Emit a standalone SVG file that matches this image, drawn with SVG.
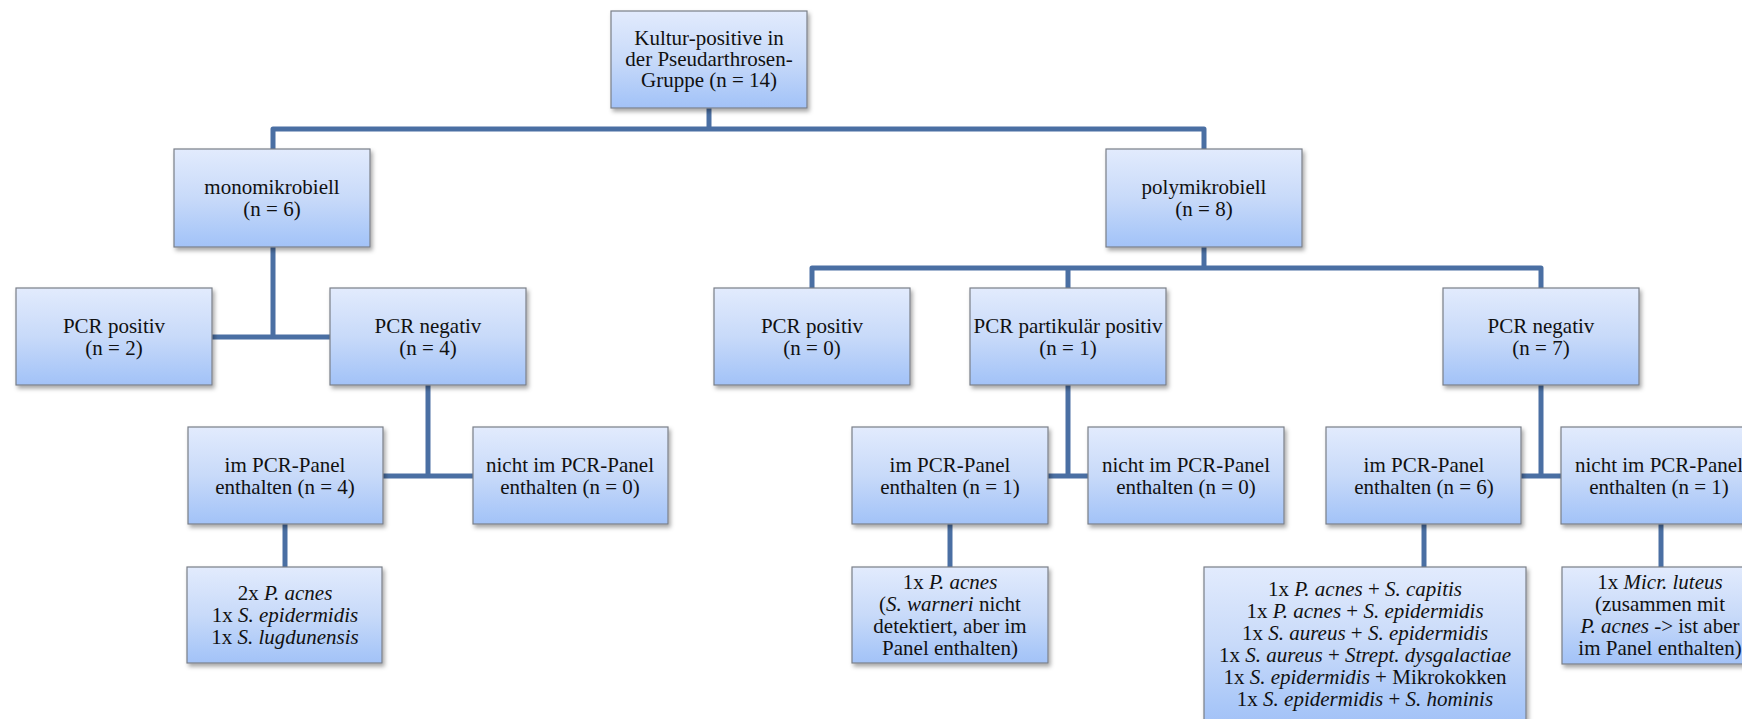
<svg xmlns="http://www.w3.org/2000/svg" width="1742" height="719" viewBox="0 0 1742 719">
<defs>
<linearGradient id="g" x1="0" y1="0" x2="0" y2="1">
<stop offset="0" stop-color="#e2ebfd"/>
<stop offset="0.5" stop-color="#c8daf9"/>
<stop offset="0.9" stop-color="#a9c7f8"/>
<stop offset="1" stop-color="#a3c2f7"/>
</linearGradient>
<filter id="sh" x="-10%" y="-10%" width="125%" height="130%">
<feDropShadow dx="2" dy="3" stdDeviation="2" flood-color="#000" flood-opacity="0.35"/>
</filter>
<style>
.b{fill:url(#g);stroke:#7a7f88;stroke-width:1.2;filter:url(#sh)}
.t{font-family:"Liberation Serif","Times New Roman",serif;font-size:21px;fill:#111;text-anchor:middle}
.i{font-style:italic}
.c{fill:none;stroke:#4a6fa3;stroke-width:5;stroke-linejoin:round}
</style>
</defs>
<rect width="1742" height="719" fill="#fff"/>
<g id="connectors">
<path class="c" d="M709,108V129"/>
<path class="c" d="M273,149V129H1204V149"/>
<path class="c" d="M273,247V337M212,337H330"/>
<path class="c" d="M1204,247V268"/>
<path class="c" d="M812,288V268H1541V288M1068,268V288"/>
<path class="c" d="M428,385V476M383,476H473"/>
<path class="c" d="M1068,385V476M1048,476H1088"/>
<path class="c" d="M1541,385V476M1521,476H1561"/>
<path class="c" d="M285,524V567"/>
<path class="c" d="M950,524V567"/>
<path class="c" d="M1424,524V567"/>
<path class="c" d="M1661,524V567"/>
</g>
<g id="root"><rect class="b" x="611" y="11" width="196" height="97"/>
<text class="t"><tspan x="709" y="45">Kultur-positive in</tspan><tspan x="709" y="66">der Pseudarthrosen-</tspan><tspan x="709" y="87">Gruppe (n = 14)</tspan></text></g>
<g id="mono"><rect class="b" x="174" y="149" width="196" height="98"/>
<text class="t"><tspan x="272" y="194">monomikrobiell</tspan><tspan x="272" y="216">(n = 6)</tspan></text></g>
<g id="poly"><rect class="b" x="1106" y="149" width="196" height="98"/>
<text class="t"><tspan x="1204" y="194">polymikrobiell</tspan><tspan x="1204" y="216">(n = 8)</tspan></text></g>
<g id="mono-pos"><rect class="b" x="16" y="288" width="196" height="97"/>
<text class="t"><tspan x="114" y="333">PCR positiv</tspan><tspan x="114" y="355">(n = 2)</tspan></text></g>
<g id="mono-neg"><rect class="b" x="330" y="288" width="196" height="97"/>
<text class="t"><tspan x="428" y="333">PCR negativ</tspan><tspan x="428" y="355">(n = 4)</tspan></text></g>
<g id="poly-pos"><rect class="b" x="714" y="288" width="196" height="97"/>
<text class="t"><tspan x="812" y="333">PCR positiv</tspan><tspan x="812" y="355">(n = 0)</tspan></text></g>
<g id="poly-part"><rect class="b" x="970" y="288" width="196" height="97"/>
<text class="t"><tspan x="1068" y="333">PCR partikulär positiv</tspan><tspan x="1068" y="355">(n = 1)</tspan></text></g>
<g id="poly-neg"><rect class="b" x="1443" y="288" width="196" height="97"/>
<text class="t"><tspan x="1541" y="333">PCR negativ</tspan><tspan x="1541" y="355">(n = 7)</tspan></text></g>
<g id="mono-im"><rect class="b" x="188" y="427" width="195" height="97"/>
<text class="t"><tspan x="285" y="472">im PCR-Panel</tspan><tspan x="285" y="494">enthalten (n = 4)</tspan></text></g>
<g id="mono-nicht"><rect class="b" x="473" y="427" width="195" height="97"/>
<text class="t"><tspan x="570" y="472">nicht im PCR-Panel</tspan><tspan x="570" y="494">enthalten (n = 0)</tspan></text></g>
<g id="part-im"><rect class="b" x="852" y="427" width="196" height="97"/>
<text class="t"><tspan x="950" y="472">im PCR-Panel</tspan><tspan x="950" y="494">enthalten (n = 1)</tspan></text></g>
<g id="part-nicht"><rect class="b" x="1088" y="427" width="196" height="97"/>
<text class="t"><tspan x="1186" y="472">nicht im PCR-Panel</tspan><tspan x="1186" y="494">enthalten (n = 0)</tspan></text></g>
<g id="neg-im"><rect class="b" x="1326" y="427" width="195" height="97"/>
<text class="t"><tspan x="1424" y="472">im PCR-Panel</tspan><tspan x="1424" y="494">enthalten (n = 6)</tspan></text></g>
<g id="neg-nicht"><rect class="b" x="1561" y="427" width="196" height="97"/>
<text class="t"><tspan x="1659" y="472">nicht im PCR-Panel</tspan><tspan x="1659" y="494">enthalten (n = 1)</tspan></text></g>
<g id="mono-list"><rect class="b" x="187" y="567" width="195" height="96"/>
<text class="t"><tspan x="285" y="600">2x <tspan class="i">P. acnes</tspan></tspan><tspan x="285" y="622">1x <tspan class="i">S. epidermidis</tspan></tspan><tspan x="285" y="644">1x <tspan class="i">S. lugdunensis</tspan></tspan></text></g>
<g id="part-list"><rect class="b" x="852" y="567" width="196" height="96"/>
<text class="t"><tspan x="950" y="589">1x <tspan class="i">P. acnes</tspan></tspan><tspan x="950" y="611">(<tspan class="i">S. warneri</tspan> nicht</tspan><tspan x="950" y="633">detektiert, aber im</tspan><tspan x="950" y="655">Panel enthalten)</tspan></text></g>
<g id="neg-list"><rect class="b" x="1204" y="567" width="322" height="155"/>
<text class="t"><tspan x="1365" y="596">1x <tspan class="i">P. acnes</tspan> + <tspan class="i">S. capitis</tspan></tspan><tspan x="1365" y="618">1x <tspan class="i">P. acnes</tspan> + <tspan class="i">S. epidermidis</tspan></tspan><tspan x="1365" y="640">1x <tspan class="i">S. aureus</tspan> + <tspan class="i">S. epidermidis</tspan></tspan><tspan x="1365" y="662">1x <tspan class="i">S. aureus</tspan> + <tspan class="i">Strept. dysgalactiae</tspan></tspan><tspan x="1365" y="684">1x <tspan class="i">S. epidermidis</tspan> + Mikrokokken</tspan><tspan x="1365" y="706">1x <tspan class="i">S. epidermidis</tspan> + <tspan class="i">S. hominis</tspan></tspan></text></g>
<g id="nicht-list"><rect class="b" x="1562" y="567" width="196" height="97"/>
<text class="t"><tspan x="1660" y="589">1x <tspan class="i">Micr. luteus</tspan></tspan><tspan x="1660" y="611">(zusammen mit</tspan><tspan x="1660" y="633"><tspan class="i">P. acnes</tspan> -&gt; ist aber</tspan><tspan x="1660" y="655">im Panel enthalten)</tspan></text></g>
</svg>
